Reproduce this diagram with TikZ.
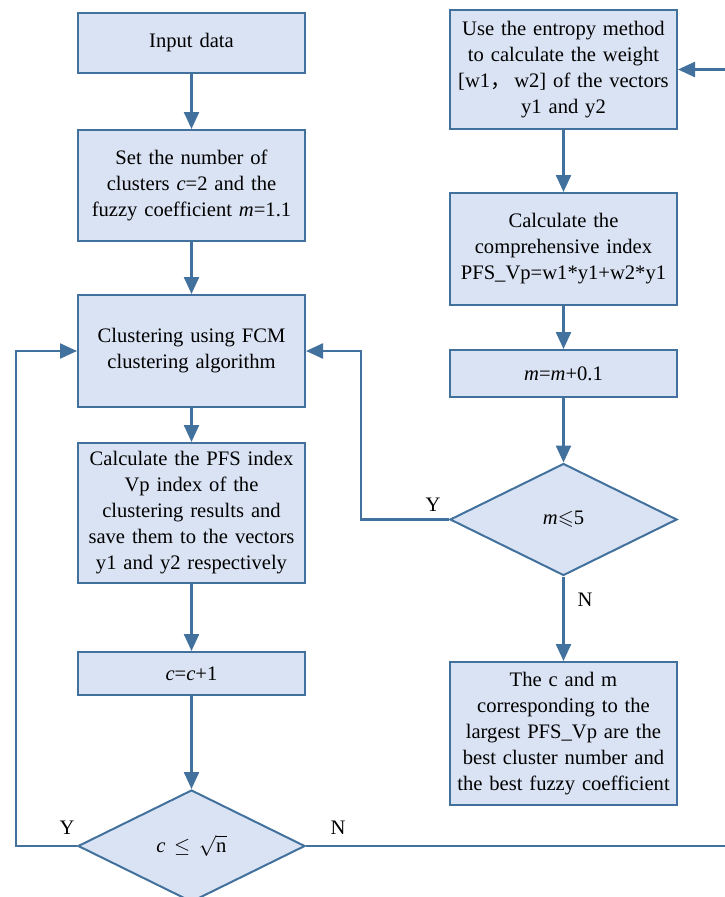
\documentclass[tikz,border=0pt]{standalone}
\usepackage{fontspec}
\usepackage{amssymb}
\setmainfont{Liberation Serif}
\newfontfamily\cjk{Noto Sans CJK SC}
\usetikzlibrary{shapes.geometric,arrows.meta}
\definecolor{boxfill}{RGB}{218,227,243}
\definecolor{boxline}{RGB}{65,113,156}
\begin{document}
\begin{tikzpicture}[x=1pt,y=-1pt,
  procbox/.style={draw=boxline,fill=boxfill,line width=2pt,minimum width=227pt,text width=219pt,align=center,inner sep=0pt,font=\fontsize{20.6}{26}\selectfont},
  decbox/.style={diamond,draw=boxline,fill=boxfill,line width=2pt,minimum width=227pt,minimum height=112pt,inner sep=0pt,font=\fontsize{20.6}{26}\selectfont},
  conn/.style={draw=boxline,line width=2.4pt},
  flow/.style={conn,-{Triangle[length=17pt,width=15pt]}},
  lbl/.style={font=\fontsize{20.6}{24}\selectfont,inner sep=0pt}]
\useasboundingbox (0,0) rectangle (725,897);
% left column
\node[procbox,minimum height=60pt] (input) at (191.5,43) {Input data};
\node[procbox,minimum height=111pt] (setc) at (191.5,185.5) {Set the number of\\ clusters \textit{c}=2 and the\\ fuzzy coefficient \textit{m}=1.1};
\node[procbox,minimum height=112pt] (clust) at (191.5,351) {Clustering using FCM\\ clustering algorithm};
\node[procbox,minimum height=140pt] (pfs) at (191.5,513) {Calculate the PFS index\\ Vp index of the\\ clustering results and\\ save them to the vectors\\ y1 and y2 respectively};
\node[procbox,minimum height=43pt] (cinc) at (191.5,673.5) {\textit{c}=\textit{c}+1};
\node[decbox] (dc) at (191.5,846) {\textit{c} \,$\leq$\, $\sqrt{\mathrm{n}}$};
% right column
\node[procbox,minimum height=119pt] (entropy) at (563.5,69.5) {Use the entropy method\\ to calculate the weight\\ {[}w1{\cjk ，}\,w2] of the vectors\\ y1 and y2};
\node[procbox,minimum height=112pt] (comp) at (563.5,249) {Calculate the\\ comprehensive index\\ PFS\_Vp=w1*y1+w2*y1};
\node[procbox,minimum height=47pt] (minc) at (563.5,373.5) {\textit{m}=\textit{m}+0.1};
\node[decbox] (dm) at (563.5,519.5) {\textit{m}$\leqslant$5};
\node[procbox,minimum height=143pt] (best) at (563.5,733.5) {The c and m\\ corresponding to the\\ largest PFS\_Vp are the\\ best cluster number and\\ the best fuzzy coefficient};
% free ends
\coordinate (outN) at (725,846);
\coordinate (inR) at (725,69.5);
% connectors
\draw[flow] (input) -- (setc);
\draw[flow] (setc) -- (clust);
\draw[flow] (clust) -- (pfs);
\draw[flow] (pfs) -- (cinc);
\draw[flow] (cinc) -- (dc);
\draw[flow] (dc.west) -- ++(-61,0) |- (clust.west);
\draw[conn] (dc.east) -- (outN);
\draw[flow] (inR) -- (entropy.east);
\draw[flow] (entropy) -- (comp);
\draw[flow] (comp) -- (minc);
\draw[flow] (minc) -- (dm);
\draw[flow] (dm) -- (best);
\draw[flow] (dm.west) -- ++(-88,0) |- (clust.east);
% labels
\node[lbl] (ly1) at (67,828) {Y};
\node[lbl] (ln1) at (338,828) {N};
\node[lbl] (ly2) at (433,505) {Y};
\node[lbl] (ln2) at (585,600) {N};
\end{tikzpicture}
\end{document}
